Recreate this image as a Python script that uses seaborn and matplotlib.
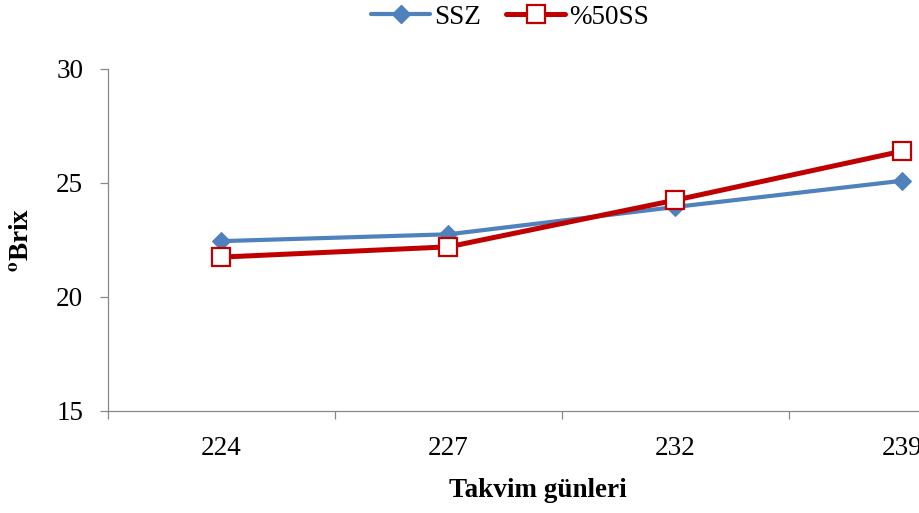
import matplotlib
matplotlib.use("Agg")
import matplotlib.pyplot as plt
import numpy as np
import pandas as pd
import seaborn as sns
from matplotlib.lines import Line2D

sns.set_style("white")
plt.rcParams['font.family'] = ['Liberation Serif', 'DejaVu Serif']
plt.rcParams['mathtext.fontset'] = 'stix'
plt.rcParams['text.color'] = 'black'
plt.rcParams['axes.labelcolor'] = 'black'
plt.rcParams['xtick.color'] = 'black'
plt.rcParams['ytick.color'] = 'black'

# data
days = ['224', '227', '232', '239']
ssz = [22.45, 22.75, 23.95, 25.1]
ss50 = [21.75, 22.2, 24.25, 26.4]

df = pd.DataFrame({
    'pos': np.tile(np.arange(len(days)), 2),
    'value': ssz + ss50,
    'series': ['SSZ'] * len(days) + ['%50SS'] * len(days),
})

blue = '#4F81BD'
red = '#C00000'
gray = '#888888'
fs = 19.5

fig = plt.figure(figsize=(9.2, 5.13), dpi=100)
ax = fig.add_axes([108 / 920, 102 / 513, 908 / 920, 342 / 513])

sns.lineplot(ax=ax, data=df[df.series == 'SSZ'], x='pos', y='value',
             color=blue, lw=3.0, marker='D', markersize=9,
             markeredgecolor=blue, markerfacecolor=blue)
sns.lineplot(ax=ax, data=df[df.series == '%50SS'], x='pos', y='value',
             color=red, lw=3.6, marker='s', markersize=13,
             markeredgecolor=red, markerfacecolor='white', markeredgewidth=1.6)

ax.set_xlim(-0.5, 3.5)
ax.set_ylim(15, 30)
ax.set_yticks([15, 20, 25, 30])
ax.set_xticks(range(len(days)))
ax.set_xticklabels(days)
ax.set_xticks(np.arange(-0.5, 3.6, 1), minor=True)
ax.tick_params(axis='x', which='major', bottom=True, length=0, pad=18, labelsize=fs)
ax.tick_params(axis='x', which='minor', bottom=True, length=5.5, color=gray, width=0.9)
ax.tick_params(axis='y', left=True, length=5.8, color=gray, width=0.9, labelsize=fs, pad=12)
for s in ['top', 'right']:
    ax.spines[s].set_visible(False)
for s in ['left', 'bottom']:
    ax.spines[s].set_color(gray)
    ax.spines[s].set_linewidth(0.9)

ax.set_xlabel('Takvim günleri', fontsize=fs, fontweight='bold', labelpad=12, x=0.4736)
ax.set_ylabel(r'$^{\mathbf{o}}$Brix', fontsize=fs, fontweight='bold', labelpad=16)

handles = [
    Line2D([], [], color=blue, lw=3.0, marker='D', markersize=9),
    Line2D([], [], color=red, lw=3.6, marker='s', markersize=13,
           markerfacecolor='white', markeredgewidth=1.6),
]
fig.legend(handles, ['SSZ', '%50SS'], loc='center', bbox_to_anchor=(510 / 920, 1 - 17 / 513),
           ncol=2, frameon=False, fontsize=fs, handlelength=2.2, columnspacing=0.9,
           handletextpad=0.15)

fig.savefig('out.png', dpi=100)
